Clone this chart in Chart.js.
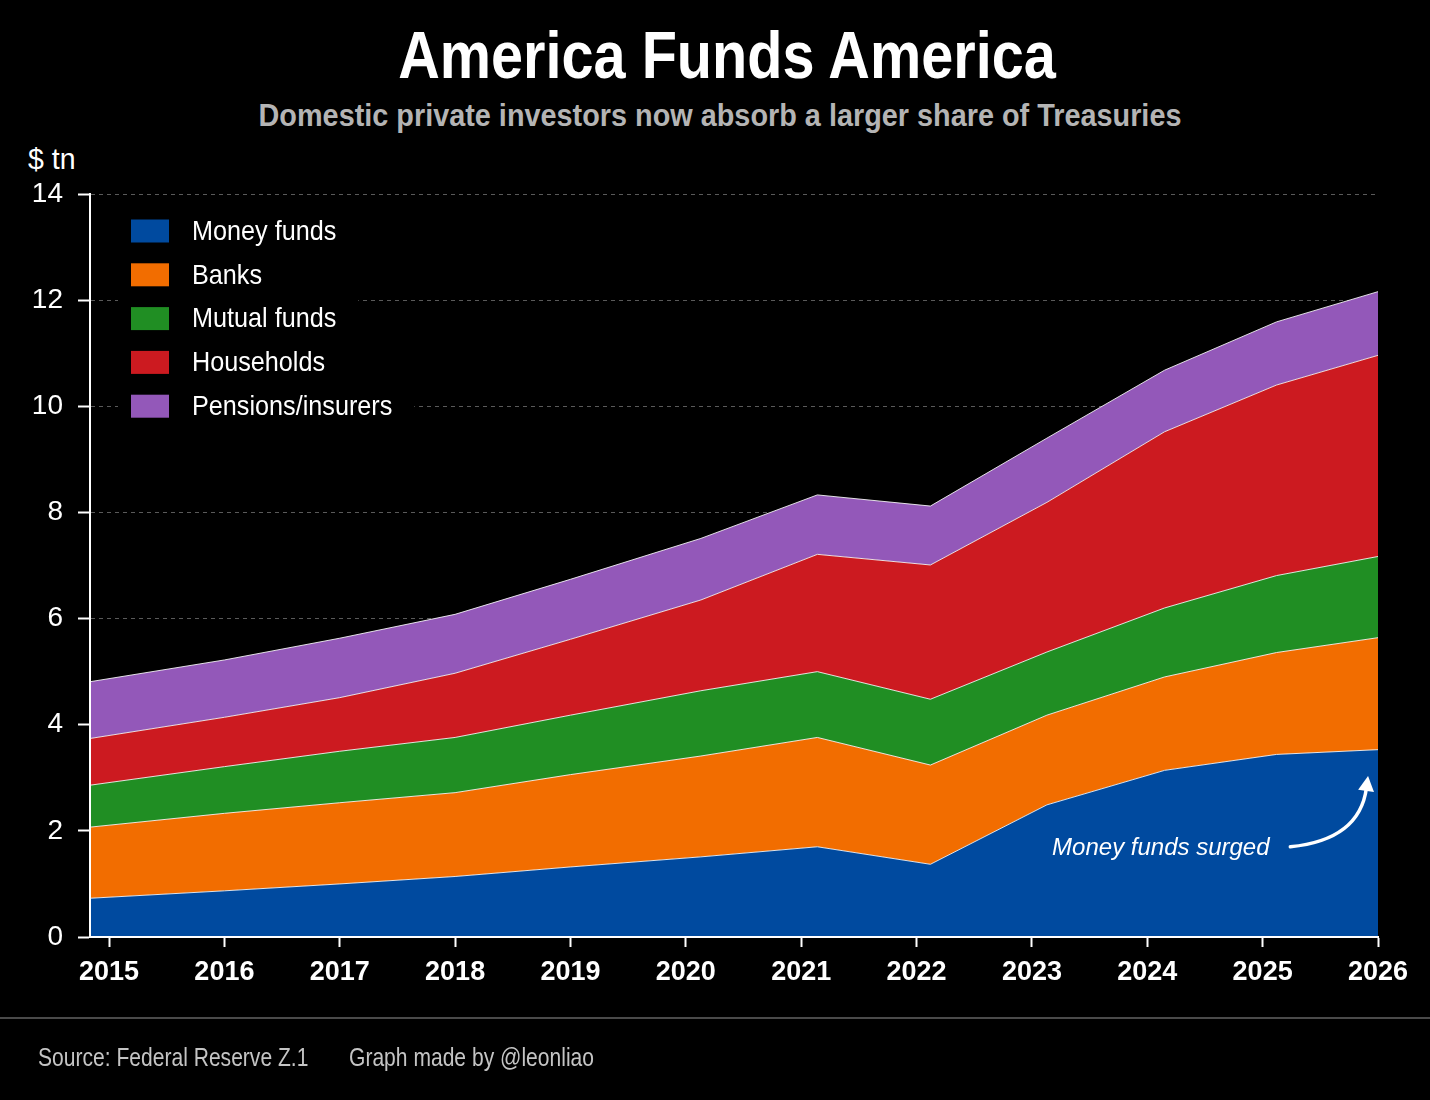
<!DOCTYPE html>
<html>
<head>
<meta charset="utf-8">
<script src="https://cdn.jsdelivr.net/npm/chart.js@4.4.1/dist/chart.umd.min.js"></script>
<style>
  html, body { margin: 0; padding: 0; background: #000; }
  body { width: 1430px; height: 1100px; position: relative; overflow: hidden;
         font-family: 'Liberation Sans', Arimo, sans-serif; }
  #c { position: absolute; left: 0; top: 0; }
  .t { position: absolute; white-space: nowrap; line-height: 1; margin: 0; }
  #title { left: 12px; width: 1430px; text-align: center; top: 22px; font-size: 66px; font-weight: bold; color: #fff;
           transform: scaleX(0.873); transform-origin: 715px 0; }
  #subtitle { left: 5px; width: 1430px; text-align: center; top: 100px; font-size: 31px; font-weight: bold; color: #b4b4b4;
              transform: scaleX(0.93); transform-origin: 715px 0; }
  #unit { left: 28px; top: 144px; font-size: 30px; color: #fff; transform: scaleX(0.95); transform-origin: 0 0; }
  #rule { position: absolute; left: 0; top: 1017px; width: 1430px; height: 2px; background: #4a4a4a; }
  #source { left: 38px; top: 1044px; font-size: 26px; color: #c4c4c4; transform: scaleX(0.81); transform-origin: 0 0; }
  #credit { left: 349px; top: 1044px; font-size: 26px; color: #c4c4c4; transform: scaleX(0.81); transform-origin: 0 0; }
</style>
</head>
<body>
<div class="t" id="title">America Funds America</div>
<div class="t" id="subtitle">Domestic private investors now absorb a larger share of Treasuries</div>
<div class="t" id="unit">$ tn</div>
<canvas id="c" width="1430" height="1100"></canvas>
<div id="rule"></div>
<div class="t" id="source">Source: Federal Reserve Z.1</div>
<div class="t" id="credit">Graph made by @leonliao</div>
<script>
// ---- data (US$ trillions) ----
const years        = [2014.835, 2016, 2017, 2018, 2019, 2020.13, 2021.14, 2022.12, 2023.13, 2024.15, 2025.12, 2026];
const moneyFunds   = [0.73, 0.87, 1.00, 1.14, 1.32, 1.51, 1.70, 1.37, 2.49, 3.14, 3.44, 3.53];
const banks        = [1.34, 1.46, 1.53, 1.58, 1.74, 1.90, 2.06, 1.87, 1.69, 1.76, 1.92, 2.11];
const mutualFunds  = [0.79, 0.88, 0.97, 1.04, 1.12, 1.23, 1.24, 1.24, 1.19, 1.30, 1.45, 1.53];
const households   = [0.88, 0.93, 1.01, 1.21, 1.43, 1.71, 2.21, 2.53, 2.82, 3.32, 3.59, 3.79];
const pensions     = [1.07, 1.08, 1.12, 1.11, 1.13, 1.16, 1.12, 1.11, 1.21, 1.16, 1.19, 1.20];
const yearTicks    = [2015, 2016, 2017, 2018, 2019, 2020, 2021, 2022, 2023, 2024, 2025, 2026];
const seriesNames  = ['Money funds', 'Banks', 'Mutual funds', 'Households', 'Pensions/insurers'];
const seriesValues = [moneyFunds, banks, mutualFunds, households, pensions];
const seriesColors = ['#004a9f', '#f26d00', '#208e23', '#cc1a20', '#9358b9'];
const annotationText = 'Money funds surged';

const FONT = "'Liberation Sans', Arimo, sans-serif";

const datasets = seriesNames.map((name, i) => ({
  label: name,
  data: years.map((x, j) => ({ x: x, y: seriesValues[i][j] })),
  backgroundColor: seriesColors[i],
  borderColor: 'rgba(255,255,255,0.85)',
  borderWidth: 1,
  fill: i === 0 ? 'origin' : '-1',
  pointRadius: 0,
  tension: 0
}));

const insideLegend = {
  id: 'insideLegend',
  afterDatasetsDraw(chart) {
    const { ctx, chartArea: a } = chart;
    const sx = 0.9;
    ctx.save();
    ctx.font = '28px ' + FONT;
    ctx.textBaseline = 'middle';
    chart.data.datasets.forEach((ds, i) => {
      const cy = a.top + 37 + i * 43.8;
      const tw = ctx.measureText(ds.label).width * sx;
      ctx.fillStyle = '#000';
      ctx.fillRect(a.left + 28, cy - 22, 102 + tw + 22 - 28, 44);
      ctx.fillStyle = ds.backgroundColor;
      ctx.fillRect(a.left + 41, cy - 11.5, 38, 23);
      ctx.save();
      ctx.translate(a.left + 102, cy + 1);
      ctx.scale(sx, 1);
      ctx.fillStyle = '#fff';
      ctx.fillText(ds.label, 0, 0);
      ctx.restore();
    });
    ctx.restore();
  }
};

const surgeNote = {
  id: 'surgeNote',
  afterDatasetsDraw(chart) {
    const { ctx } = chart;
    const xs = chart.scales.x, ys = chart.scales.y;
    ctx.save();
    ctx.font = 'italic 24px ' + FONT;
    ctx.fillStyle = '#fff';
    ctx.textAlign = 'right';
    ctx.textBaseline = 'alphabetic';
    ctx.fillText(annotationText, xs.getPixelForValue(2025.06), ys.getPixelForValue(1.55));
    // curved arrow
    const p0 = { x: xs.getPixelForValue(2025.24), y: ys.getPixelForValue(1.70) };
    const c  = { x: xs.getPixelForValue(2025.84), y: ys.getPixelForValue(1.83) };
    const p2 = { x: xs.getPixelForValue(2025.90), y: ys.getPixelForValue(2.81) };
    ctx.strokeStyle = '#fff';
    ctx.lineWidth = 3.5;
    ctx.lineCap = 'round';
    ctx.beginPath();
    ctx.moveTo(p0.x, p0.y);
    ctx.quadraticCurveTo(c.x, c.y, p2.x, p2.y);
    ctx.stroke();
    const dx = p2.x - c.x, dy = p2.y - c.y, len = Math.hypot(dx, dy);
    const ux = dx / len, uy = dy / len;
    const tip = { x: p2.x + ux * 12, y: p2.y + uy * 12 };
    const bx = p2.x - ux * 3, by = p2.y - uy * 3;
    ctx.fillStyle = '#fff';
    ctx.beginPath();
    ctx.moveTo(tip.x, tip.y);
    ctx.lineTo(bx - uy * 8, by + ux * 8);
    ctx.lineTo(bx + uy * 8, by - ux * 8);
    ctx.closePath();
    ctx.fill();
    ctx.restore();
  }
};

new Chart(document.getElementById('c'), {
  type: 'line',
  data: { datasets: datasets },
  options: {
    responsive: false,
    maintainAspectRatio: false,
    devicePixelRatio: 1,
    animation: false,
    layout: { padding: { top: 194, right: 52, bottom: 103, left: 0 } },
    plugins: { legend: { display: false }, tooltip: { enabled: false } },
    scales: {
      x: {
        type: 'linear',
        min: years[0],
        max: years[years.length - 1],
        grid: { display: true, drawOnChartArea: false, drawTicks: true, tickLength: 10, tickColor: '#fff', tickWidth: 2 },
        border: { display: true, color: '#fff', width: 2, z: 1 },
        ticks: { color: '#fff', font: { family: FONT, size: 27, weight: 'bold' }, padding: 9,
                 maxRotation: 0, autoSkip: false, callback: v => String(v) },
        afterBuildTicks: s => { s.ticks = yearTicks.map(v => ({ value: v })); },
        afterFit: s => { s.height = 60; }
      },
      y: {
        stacked: true,
        min: 0,
        max: 14,
        ticks: { stepSize: 2, color: '#fff', font: { family: FONT, size: 28 }, padding: 15 },
        grid: { color: '#5a5a5a', lineWidth: 1, tickColor: '#fff', tickLength: 12, tickWidth: 2 },
        border: { display: true, color: '#fff', width: 2, dash: [4, 4], z: 1 },
        afterFit: s => { s.width = 90; }
      }
    }
  },
  plugins: [insideLegend, surgeNote]
});
</script>
</body>
</html>
